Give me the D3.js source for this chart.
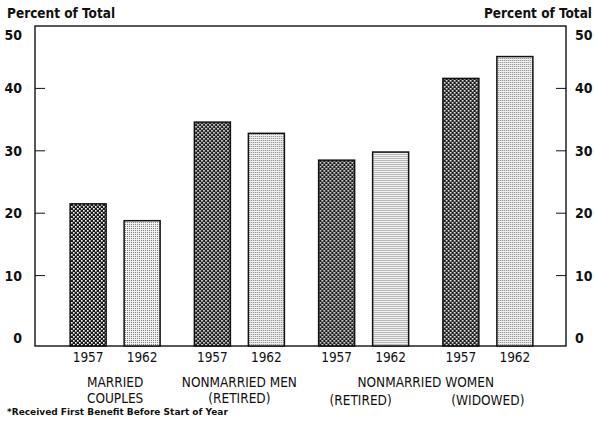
<!DOCTYPE html>
<html>
<head>
<meta charset="utf-8">
<script src="https://cdn.jsdelivr.net/npm/d3@7"></script>
<style>
  body { margin: 0; background: #fff; }
  text { font-family: "DejaVu Sans", sans-serif; font-stretch: condensed; fill: #111; }
</style>
</head>
<body>
<div id="chart"></div>
<script>
const groups = ["married", "menRetired", "womenRetired", "womenWidowed"]
const years = ["1957", "1962"]
const values1957 = [21.5, 34.6, 28.5, 41.6]
const values1962 = [18.8, 32.8, 29.8, 45.1]
const yTicks = [0, 10, 20, 30, 40, 50]

const width = 594, height = 422
const frame = { left: 35, right: 566, top: 26, bottom: 346 }

const svg = d3.select("#chart").append("svg")
  .attr("width", width).attr("height", height)

// hatch patterns: dark checker for 1957, light dot screen for 1962
const defs = svg.append("defs")
const p1 = defs.append("pattern").attr("id", "p1957")
  .attr("patternUnits", "userSpaceOnUse").attr("width", 4).attr("height", 4)
p1.append("rect").attr("width", 4).attr("height", 4).attr("fill", "#1a1a1a")
p1.append("rect").attr("x", 0).attr("y", 0).attr("width", 1.6).attr("height", 1.6).attr("fill", "#fff")
p1.append("rect").attr("x", 2).attr("y", 2).attr("width", 1.6).attr("height", 1.6).attr("fill", "#fff")

const p2 = defs.append("pattern").attr("id", "p1962")
  .attr("patternUnits", "userSpaceOnUse").attr("width", 2).attr("height", 2)
p2.append("rect").attr("width", 2).attr("height", 2).attr("fill", "#f0f0f0")
p2.append("rect").attr("width", 1).attr("height", 1).attr("fill", "#808080")

const y = d3.scaleLinear().domain([0, 50]).range([338, frame.top])

const x0 = d3.scaleBand().domain(groups).range([53, 550]).padding(0)
const bw = x0.bandwidth()
const x1 = d3.scaleBand().domain(years).range([bw / 2 - 45, bw / 2 + 45])
  .paddingInner(1 / 3).paddingOuter(0)

// frame
svg.append("rect")
  .attr("x", frame.left).attr("y", frame.top)
  .attr("width", frame.right - frame.left).attr("height", frame.bottom - frame.top)
  .attr("fill", "none").attr("stroke", "#111").attr("stroke-width", 1.4)

// inner ticks on both sides
const tickVals = yTicks.filter(t => t > 0 && t < 50)
svg.selectAll(".tl").data(tickVals).enter().append("line")
  .attr("x1", frame.left).attr("x2", frame.left + 10)
  .attr("y1", d => y(d)).attr("y2", d => y(d))
  .attr("stroke", "#111").attr("stroke-width", 1)
svg.selectAll(".tr").data(tickVals).enter().append("line")
  .attr("x1", frame.right - 10).attr("x2", frame.right)
  .attr("y1", d => y(d)).attr("y2", d => y(d))
  .attr("stroke", "#111").attr("stroke-width", 1)

// tick labels (50 sits a bit lower, under the axis title)
const labelY = d => y(d) + (d === 50 ? 9 : 0)
svg.selectAll(".ll").data(yTicks).enter().append("text")
  .attr("x", 22).attr("y", labelY).attr("dy", "0.36em")
  .attr("text-anchor", "end").attr("font-size", 14).attr("font-weight", "bold")
  .text(d => d)
svg.selectAll(".rl").data(yTicks).enter().append("text")
  .attr("x", 575).attr("y", labelY).attr("dy", "0.36em")
  .attr("text-anchor", "start").attr("font-size", 14).attr("font-weight", "bold")
  .text(d => d)

svg.append("text").attr("x", 7).attr("y", 18)
  .attr("font-size", 13.5).attr("font-weight", "bold").text("Percent of Total")
svg.append("text").attr("x", 592).attr("y", 18).attr("text-anchor", "end")
  .attr("font-size", 13.5).attr("font-weight", "bold").text("Percent of Total")

// bars
const rows = groups.map((g, i) => ({ g, vals: [values1957[i], values1962[i]] }))
const gg = svg.selectAll(".grp").data(rows).enter().append("g")
  .attr("transform", d => "translate(" + x0(d.g) + ",0)")

gg.selectAll("rect").data(d => d.vals.map((v, i) => ({ year: years[i], v })))
  .enter().append("rect")
  .attr("x", d => x1(d.year))
  .attr("y", d => y(d.v))
  .attr("width", x1.bandwidth())
  .attr("height", d => frame.bottom - y(d.v))
  .attr("fill", d => "url(#p" + d.year + ")")
  .attr("stroke", "#111").attr("stroke-width", 1.5)

gg.selectAll(".yr").data(years).enter().append("text")
  .attr("x", d => x1(d) + x1.bandwidth() / 2)
  .attr("y", 362)
  .attr("text-anchor", "middle").attr("font-size", 13.5)
  .text(d => d)

// category labels
const catLabels = [
  { text: "MARRIED", x: x0("married") + bw / 2, y: 387 },
  { text: "COUPLES", x: x0("married") + bw / 2, y: 403 },
  { text: "NONMARRIED MEN", x: x0("menRetired") + bw / 2, y: 387 },
  { text: "(RETIRED)", x: x0("menRetired") + bw / 2, y: 403 },
  { text: "NONMARRIED WOMEN", x: x0("womenWidowed"), y: 387 },
  { text: "(RETIRED)", x: x0("womenRetired") + bw / 2 - 3, y: 405 },
  { text: "(WIDOWED)", x: x0("womenWidowed") + bw / 2, y: 405 }
]
svg.selectAll(".cat").data(catLabels).enter().append("text")
  .attr("x", d => d.x).attr("y", d => d.y)
  .attr("text-anchor", "middle").attr("font-size", 13.5)
  .text(d => d.text)

svg.append("text").attr("x", 7).attr("y", 415)
  .style("font-stretch", "normal")
  .attr("font-size", 9).attr("font-weight", "bold")
  .text("*Received First Benefit Before Start of Year")
</script>
</body>
</html>
